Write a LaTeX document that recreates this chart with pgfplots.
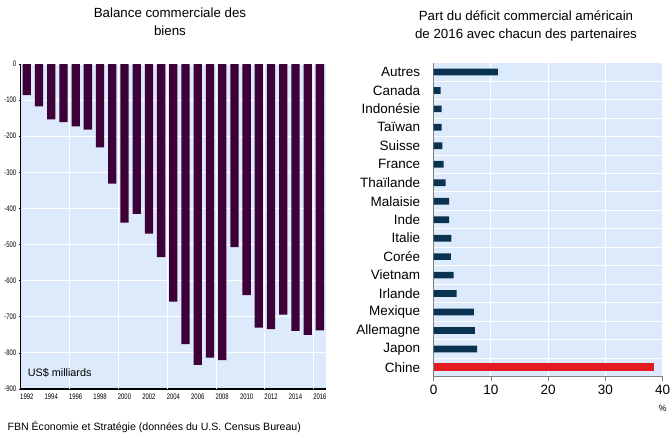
\documentclass[border=0pt]{standalone}
\usepackage{pgfplots}
\pgfplotsset{compat=1.18}
\usepackage{fontspec}
\setmainfont{Liberation Sans}
\definecolor{bgblue}{HTML}{DDEAFB}
\definecolor{barpurple}{HTML}{3E0038}
\definecolor{barnavy}{HTML}{0A3352}
\definecolor{barred}{HTML}{E31B23}
\newcommand{\narrow}[1]{\scalebox{0.74}[1]{#1}}

\begin{document}
\begin{tikzpicture}
\path[use as bounding box] (0pt,0pt) rectangle (670pt,-435pt);

% titles
\node[align=center,font=\fontsize{13.3}{18.5}\selectfont] at (170pt,-22pt) {Balance commerciale des\\biens};
\node[align=center,font=\fontsize{13.3}{18.5}\selectfont] at (526pt,-26pt) {Part du déficit commercial américain\\de 2016 avec chacun des partenaires};

% left: goods balance
\begin{axis}[
    at={(20.7pt,-389pt)}, anchor=south west,
    scale only axis, width=305.3pt, height=325pt,
    xmin=1991.5, xmax=2016.5, ymin=-900, ymax=0,
    axis background/.style={fill=bgblue},
    axis x line=bottom, axis y line=left,
    axis line style={-, black, line width=1.1pt},
    ybar, bar width=8.3pt,
    ytick={-900,-800,...,0},
    yticklabels={\narrow{-900},\narrow{-800},\narrow{-700},\narrow{-600},\narrow{-500},\narrow{-400},\narrow{-300},\narrow{-200},\narrow{-100},\narrow{0}},
    ymajorgrids, grid style={white, line width=1pt},
    xtick={1992,1994,...,2016},
    xticklabels={\narrow{1992},\narrow{1994},\narrow{1996},\narrow{1998},\narrow{2000},\narrow{2002},\narrow{2004},\narrow{2006},\narrow{2008},\narrow{2010},\narrow{2012},\narrow{2014},\narrow{2016}},
    x tick style={draw=none},
    minor xtick={1991.5,1992.5,...,2016.5},
    minor x tick style={black, line width=0.8pt},
    minor tick length=3.5pt,
    y tick style={black, line width=0.6pt},
    major tick length=2pt,
    tick align=outside,
    extra x ticks={1995.5,1999.5,2003.5,2007.5,2011.5,2015.5},
    extra x tick labels={},
    extra x tick style={xmajorgrids=true, major tick length=0pt},
    xticklabel style={font=\fontsize{8}{9}\selectfont, yshift=1pt},
    yticklabel style={font=\fontsize{8}{9}\selectfont, xshift=1pt},
    clip=false,
]
\addplot[fill=barpurple, draw=none, bar shift=0pt] coordinates {
(1992,-86) (1993,-117) (1994,-153) (1995,-161) (1996,-173) (1997,-182)
(1998,-231) (1999,-331) (2000,-439) (2001,-415) (2002,-470) (2003,-535)
(2004,-658) (2005,-776) (2006,-833) (2007,-813) (2008,-820) (2009,-507)
(2010,-640) (2011,-730) (2012,-734) (2013,-694) (2014,-739) (2015,-750)
(2016,-738)};
\node[anchor=south west, font=\fontsize{10.8}{12}\selectfont] at (rel axis cs:0.012,0.025) {US\$ milliards};
\end{axis}

% right: share of deficit
\begin{axis}[
    at={(433.7pt,-376.7pt)}, anchor=south west,
    scale only axis, width=229pt, height=314pt,
    xmin=0, xmax=40, ymin=-0.5, ymax=16.5,
    axis background/.style={fill=bgblue},
    axis x line=bottom, axis y line=left,
    axis line style={-, gray, line width=0.8pt},
    xbar,
    xtick={0,10,20,30,40},
    xmajorgrids, yminorgrids,
    grid style={white, line width=1pt},
    minor grid style={white, line width=1pt},
    ytick={0,...,16},
    yticklabels={Chine,Japon,Allemagne,Mexique,Irlande,Vietnam,Corée,Italie,Inde,Malaisie,Thaïlande,France,Suisse,Taïwan,Indonésie,Canada,Autres},
    y tick style={draw=none},
    minor ytick={-0.5,0.5,...,16.5},
    minor y tick style={gray, line width=0.6pt},
    minor tick length=4pt,
    x tick style={gray, line width=0.6pt},
    major tick length=4pt,
    tick align=outside,
    yticklabel style={font=\fontsize{13.5}{15}\selectfont, xshift=-6pt},
    xticklabel style={font=\fontsize{13.5}{15}\selectfont, yshift=-1pt},
    /pgf/number format/assume math mode=true,
    clip=false,
]
\addplot[fill=barnavy, draw=none, bar width=6.7pt, bar shift=0pt] coordinates {
(7.6,1) (7.2,2) (7.0,3) (4.0,4) (3.5,5) (3.0,6) (3.1,7) (2.7,8) (2.7,9)
(2.1,10) (1.75,11) (1.5,12) (1.4,13) (1.4,14) (1.2,15) (11.2,16)};
\addplot[fill=barred, draw=none, bar width=8pt, bar shift=0pt] coordinates {(38.5,0)};
\node[font=\fontsize{9}{10}\selectfont] at (rel axis cs:1,-0.1) {\%};
\end{axis}

% source
\node[anchor=base west, font=\fontsize{10.6}{12}\selectfont] at (4pt,-431pt) {FBN Économie et Stratégie (données du U.S. Census Bureau)};
\end{tikzpicture}
\end{document}
